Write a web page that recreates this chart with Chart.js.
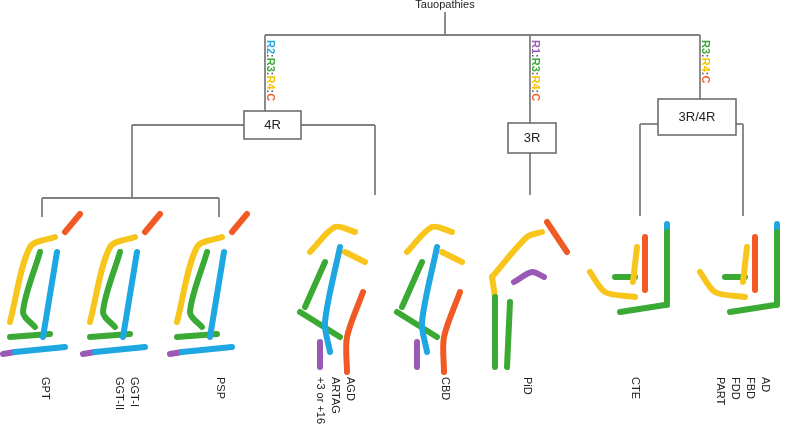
<!DOCTYPE html>
<html>
<head>
<meta charset="utf-8">
<script src="https://cdn.jsdelivr.net/npm/chart.js@4"></script>
<style>
  html, body { margin: 0; padding: 0; background: #fff; }
  #wrap { width: 787px; height: 430px; }
</style>
</head>
<body>
<div id="wrap"><canvas id="c"></canvas></div>
<script>
// Tree branches (pixel space of the figure), one polyline per entry
var treeLines = [
  [[445, 12], [445, 35]],
  [[265, 35], [700, 35]],
  [[265, 35], [265, 111]],
  [[530, 35], [530, 123]],
  [[530, 153], [530, 195]],
  [[700, 35], [700, 99]],
  [[132, 125], [244, 125]],
  [[301, 125], [375, 125]],
  [[132, 125], [132, 198]],
  [[42, 198], [219, 198]],
  [[42, 198], [42, 217]],
  [[219, 198], [219, 217]],
  [[375, 125], [375, 195]],
  [[640, 124], [658, 124]],
  [[736, 124], [743, 124]],
  [[640, 124], [640, 216]],
  [[743, 124], [743, 216]]
];
// Boxes: x1, y1, x2, y2 and their labels
var boxLabels = ['4R', '3R', '3R/4R'];
var boxRects = [[244, 111, 301, 139], [508, 123, 556, 153], [658, 99, 736, 135]];
// Branch annotations (coloured repeats)
var repeatTags = [
  { x: 270, y: 40, parts: [['R2', '#2aa7df'], [':', '#555'], ['R3', '#3aaa35'], [':', '#555'], ['R4', '#f5c400'], [':', '#555'], ['C', '#f15a24']] },
  { x: 535, y: 40, parts: [['R1', '#9b59b6'], [':', '#555'], ['R3', '#3aaa35'], [':', '#555'], ['R4', '#f5c400'], [':', '#555'], ['C', '#f15a24']] },
  { x: 705, y: 40, parts: [['R3', '#3aaa35'], [':', '#555'], ['R4', '#f5c400'], [':', '#555'], ['C', '#f15a24']] }
];
// Disease labels at the leaves (rotated), one entry per text line
var leafNames = ['GPT', 'GGT-I', 'GGT-II', 'PSP', 'AGD', 'ARTAG', '+3 or +16', 'CBD', 'PiD', 'CTE', 'AD', 'FBD', 'FDD', 'PART'];
var leafX = [45, 134, 119, 220, 350, 335, 320, 445, 527, 635, 765, 750, 735, 720];
var leafY = 377;
// Fold sketches: centre x of each leaf and family template
var foldX = [45, 125, 212, 335, 432, 522, 625, 735];
var foldKind = ['4R', '4R', '4R', '4Rb', '4Rb', '3R', 'J', 'J'];
var foldTop = 222;
var colors = { y: '#f8c51c', g: '#3aaa35', b: '#1ea7e1', o: '#f15a24', p: '#9b59b6' };
var templates = {
  '4R': [['y', [[-35, 100], [-15, 25], [10, 15]]], ['o', [[20, 10], [35, -8]]], ['g', [[-5, 30], [-22, 90], [-10, 105]]],
         ['b', [[12, 30], [-2, 115]]], ['g', [[-35, 115], [5, 112]]], ['b', [[-30, 130], [20, 125]]], ['p', [[-42, 132], [-30, 130]]]],
  '4Rb': [['y', [[-25, 30], [0, 5], [20, 10]]], ['g', [[-10, 40], [-30, 85]]], ['b', [[5, 25], [-10, 100], [-5, 130]]],
          ['o', [[28, 70], [12, 115], [12, 150]]], ['g', [[-35, 90], [5, 115]]], ['p', [[-15, 120], [-15, 145]]], ['y', [[10, 30], [30, 40]]]],
  '3R': [['y', [[-30, 55], [5, 15], [20, 10]]], ['o', [[25, 0], [45, 30]]], ['p', [[-8, 60], [10, 50], [22, 55]]],
         ['g', [[-27, 75], [-27, 145]]], ['g', [[-15, 145], [-12, 80]]], ['y', [[-30, 55], [-27, 75]]]],
  'J': [['y', [[-35, 50], [-20, 70], [10, 75]]], ['g', [[-5, 90], [40, 83]]], ['g', [[42, 83], [42, 10]]], ['b', [[42, 10], [42, 2]]],
        ['o', [[20, 68], [20, 15]]], ['y', [[8, 60], [12, 25]]], ['g', [[-10, 55], [10, 55]]]]
};

var datasets = [];
treeLines.forEach(function (seg) {
  datasets.push({
    data: seg.map(function (p) { return { x: p[0], y: p[1] }; }),
    borderColor: '#808080', borderWidth: 1.8, showLine: true, pointRadius: 0
  });
});
foldX.forEach(function (cx, i) {
  templates[foldKind[i]].forEach(function (seg) {
    datasets.push({
      data: seg[1].map(function (p) { return { x: cx + p[0], y: foldTop + p[1] }; }),
      borderColor: colors[seg[0]], borderWidth: 6, showLine: true, pointRadius: 0,
      borderCapStyle: 'round', borderJoinStyle: 'round', tension: 0.3
    });
  });
});

var decor = {
  id: 'decor',
  afterDatasetsDraw: function (chart) {
    var ctx = chart.ctx, xs = chart.scales.x, ys = chart.scales.y;
    ctx.save();
    ctx.font = '11px "Liberation Sans", Arial, sans-serif';
    ctx.fillStyle = '#222'; ctx.textAlign = 'center'; ctx.textBaseline = 'middle';
    ctx.fillText('Tauopathies', xs.getPixelForValue(445), ys.getPixelForValue(5));
    boxRects.forEach(function (r, i) {
      var x1 = xs.getPixelForValue(r[0]), y1 = ys.getPixelForValue(r[1]);
      var x2 = xs.getPixelForValue(r[2]), y2 = ys.getPixelForValue(r[3]);
      ctx.fillStyle = '#fff'; ctx.fillRect(x1, y1, x2 - x1, y2 - y1);
      ctx.strokeStyle = '#666'; ctx.lineWidth = 1.5; ctx.strokeRect(x1, y1, x2 - x1, y2 - y1);
      ctx.fillStyle = '#222'; ctx.font = '13px "Liberation Sans", Arial, sans-serif';
      ctx.fillText(boxLabels[i], (x1 + x2) / 2, (y1 + y2) / 2);
    });
    ctx.font = 'bold 11px "Liberation Sans", Arial, sans-serif';
    ctx.textAlign = 'left';
    repeatTags.forEach(function (t) {
      ctx.save();
      ctx.translate(xs.getPixelForValue(t.x), ys.getPixelForValue(t.y));
      ctx.rotate(Math.PI / 2);
      var off = 0;
      t.parts.forEach(function (p) {
        ctx.fillStyle = p[1]; ctx.fillText(p[0], off, 0);
        off += ctx.measureText(p[0]).width;
      });
      ctx.restore();
    });
    ctx.font = '11px "Liberation Sans", Arial, sans-serif';
    ctx.fillStyle = '#222';
    leafNames.forEach(function (n, i) {
      ctx.save();
      ctx.translate(xs.getPixelForValue(leafX[i]), ys.getPixelForValue(leafY));
      ctx.rotate(Math.PI / 2);
      ctx.fillText(n, 0, 0);
      ctx.restore();
    });
    ctx.restore();
  }
};

new Chart(document.getElementById('c'), {
  type: 'scatter',
  data: { datasets: datasets },
  options: {
    responsive: true, maintainAspectRatio: false, animation: false,
    layout: { padding: 0 },
    plugins: { legend: { display: false }, tooltip: { enabled: false } },
    scales: {
      x: { type: 'linear', min: 0, max: 787, display: false },
      y: { type: 'linear', min: 0, max: 430, reverse: true, display: false }
    }
  },
  plugins: [decor]
});
</script>
</body>
</html>
